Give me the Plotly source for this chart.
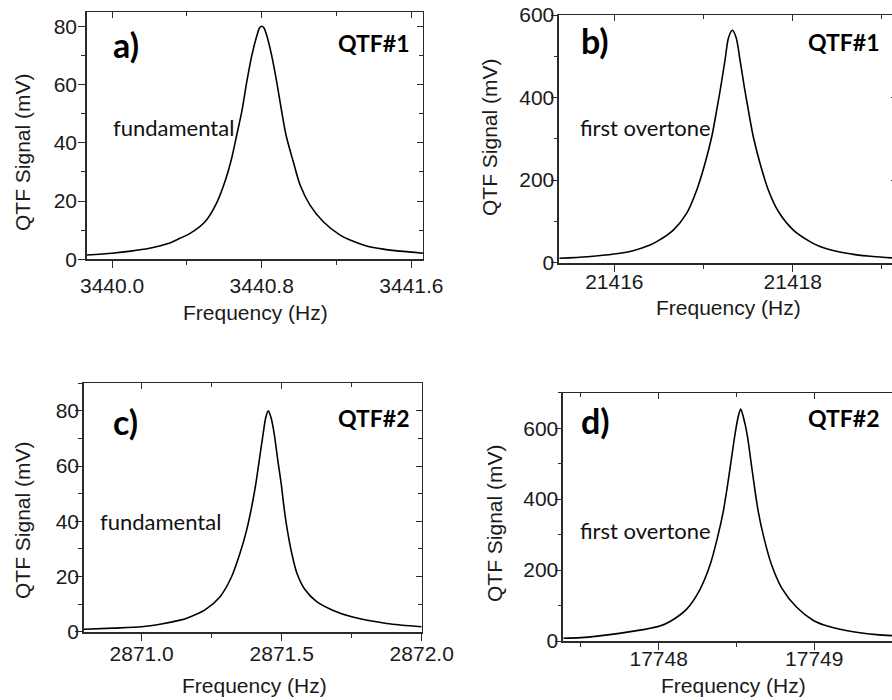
import plotly.graph_objects as go

W, H = 900, 700  # slightly wider than the window so the clipped right frames of b) and d) fall off-screen

# ---------------- data ----------------
freq_a = [3439.866, 3440.0, 3440.1, 3440.2, 3440.3, 3440.363, 3440.417, 3440.497, 3440.558,
          3440.603, 3440.639, 3440.666, 3440.693, 3440.72, 3440.747, 3440.775, 3440.788, 3440.8,
          3440.812, 3440.826, 3440.853, 3440.88, 3440.907, 3440.93, 3440.969, 3441.005, 3441.058,
          3441.129, 3441.219, 3441.272, 3441.36, 3441.45, 3441.54, 3441.662]
sig_a = [1.5, 2.1, 2.8, 3.8, 5.4, 7.2, 8.9, 12.9, 19.2,
         26.6, 34.6, 42.6, 50.6, 60.9, 70.0, 77.0, 79.4, 80.0,
         79.4, 77.0, 70.0, 60.9, 50.6, 42.6, 33.4, 25.5, 18.6,
         12.9, 8.3, 6.6, 4.6, 3.5, 2.8, 2.1]

freq_b = [21415.383, 21415.7, 21416.0, 21416.2, 21416.4, 21416.475, 21416.661, 21416.812,
          21416.924, 21417.017, 21417.092, 21417.148, 21417.193, 21417.241, 21417.28, 21417.323,
          21417.366, 21417.409, 21417.457, 21417.502, 21417.558, 21417.633, 21417.726, 21417.839,
          21418.007, 21418.194, 21418.306, 21418.5, 21418.7, 21418.9, 21419.169]
sig_b = [10.6, 14.5, 21, 28.5, 43, 51, 79, 120,
         176, 241, 305, 370, 426, 491, 545, 563,
         545, 491, 426, 370, 305, 241, 176, 124,
         79, 51, 39, 27, 19.5, 15, 11]

freq_c = [2870.794, 2870.9, 2871.0, 2871.07, 2871.137, 2871.161, 2871.226, 2871.28, 2871.321,
          2871.351, 2871.375, 2871.393, 2871.408, 2871.42, 2871.434, 2871.443, 2871.452,
          2871.462, 2871.473, 2871.486, 2871.498, 2871.508, 2871.52, 2871.536, 2871.554,
          2871.583, 2871.625, 2871.684, 2871.75, 2871.875, 2872.0]
sig_c = [0.9, 1.3, 1.8, 2.8, 4.2, 4.9, 7.9, 12.7, 19.9,
         28.4, 36.9, 45.3, 53.8, 62.2, 71.9, 77.5, 80.0,
         77.5, 71.9, 62.2, 53.8, 45.3, 36.9, 28.4, 21.3,
         15.3, 10.9, 7.7, 5.4, 3.0, 1.8]

freq_d = [17747.387, 17747.5, 17747.747, 17747.9, 17748.008, 17748.073, 17748.18, 17748.265,
          17748.33, 17748.377, 17748.415, 17748.443, 17748.465, 17748.49, 17748.51, 17748.527,
          17748.545, 17748.569, 17748.593, 17748.614, 17748.64, 17748.677, 17748.726, 17748.79,
          17748.887, 17748.994, 17749.101, 17749.25, 17749.4, 17749.551]
sig_d = [7.6, 9.4, 21.6, 32, 42, 55, 90, 145,
         214, 290, 365, 440, 506, 581, 630, 654,
         630, 581, 506, 440, 365, 290, 214, 150,
         95, 58, 40, 26, 18, 14]

panel_letters = ["a)", "b)", "c)", "d)"]
panel_qtf = ["QTF#1", "QTF#1", "QTF#2", "QTF#2"]
panel_mode = ["fundamental", "first overtone", "fundamental", "first overtone"]

x_ranges = [[3439.866, 3441.662], [21415.383, 21419.169], [2870.794, 2872.0], [17747.387, 17749.551]]
y_ranges = [[0, 85], [0, 600], [0, 90], [0, 700]]
x_ticks = [[3440.0, 3440.8, 3441.6], [21416, 21418], [2871.0, 2871.5, 2872.0], [17748, 17749]]
x_fmt = [".1f", "d", ".1f", "d"]
x_minor = [0.4, 1, 0.25, 0.5]
x_minor0 = [3440.0, 21416, 2871.0, 17748]
y_dtick = [20, 200, 20, 200]
y_minor = [10, 100, 10, 100]
x_standoff = [0, -8, -5, -9]
y_standoff = [-3, -8, -8, -8]

# ---------------- layout geometry (page pixels) ----------------
# plot boxes: left, right, top, bottom
boxes = [(87, 423, 11.7, 259.3), (559.3, 897, 15, 262.7), (84, 421.7, 383.3, 631.7), (563.3, 900, 392.7, 641)]


def px(x):
    return x / W


def py(y):
    return 1 - y / H


fig = go.Figure()
series = [(freq_a, sig_a), (freq_b, sig_b), (freq_c, sig_c), (freq_d, sig_d)]

tickfont = dict(family="Liberation Sans, Arial, sans-serif", size=21, color="#1a1a1a")
axcol = "#2a2a2a"

layout = dict(width=W, height=H, margin=dict(l=0, r=0, t=0, b=0, autoexpand=False),
              paper_bgcolor="white", plot_bgcolor="white", showlegend=False, template="none")

for i, (fx, sy) in enumerate(series):
    n = i + 1
    m = i + 5
    fig.add_trace(go.Scatter(x=fx, y=sy, mode="lines", line=dict(color="black", width=1.6, shape="spline", smoothing=0.8),
                             xaxis=f"x{n}", yaxis=f"y{n}", hoverinfo="skip"))
    fig.add_trace(go.Scatter(x=fx, y=sy, mode="lines", line=dict(color="rgba(0,0,0,0)", width=0),
                             xaxis=f"x{m}", yaxis=f"y{m}", hoverinfo="skip"))
    l, r, t, b = boxes[i]
    xd = [px(l), min(1.0, px(r))]
    yd = [py(b), py(t)]
    layout[f"xaxis{n}"] = dict(domain=xd, anchor=f"y{n}", range=x_ranges[i], tickvals=x_ticks[i],
                               tickformat=x_fmt[i], ticks="outside", ticklen=7, tickwidth=1.3, tickcolor=axcol,
                               minor=dict(ticks="outside", ticklen=4, tickwidth=1.2, tickcolor=axcol,
                                          tick0=x_minor0[i], dtick=x_minor[i], showgrid=False),
                               showline=True, linecolor=axcol, linewidth=1.6, showgrid=False, zeroline=False,
                               tickfont=tickfont, automargin=False, ticklabelstandoff=x_standoff[i],
                               ticklabeloverflow="allow")
    layout[f"yaxis{n}"] = dict(domain=yd, anchor=f"x{n}", range=y_ranges[i], dtick=y_dtick[i],
                               ticks="outside", ticklen=7, tickwidth=1.3, tickcolor=axcol,
                               minor=dict(ticks="outside", ticklen=4, tickwidth=1.2, tickcolor=axcol,
                                          dtick=y_minor[i], showgrid=False),
                               showline=True, linecolor=axcol, linewidth=1.6, showgrid=False, zeroline=False,
                               tickfont=tickfont, automargin=False, ticklabelstandoff=y_standoff[i],
                               ticklabeloverflow="allow")
    layout[f"xaxis{m}"] = dict(overlaying=f"x{n}", anchor=f"y{m}", side="top", range=x_ranges[i],
                               tickvals=x_ticks[i], ticks="inside", ticklen=6, tickwidth=1.2, tickcolor=axcol,
                               minor=dict(ticks="inside", ticklen=4, tickwidth=1.1, tickcolor=axcol,
                                          tick0=x_minor0[i], dtick=x_minor[i], showgrid=False),
                               showticklabels=False, showline=True, linecolor=axcol, linewidth=1.2,
                               showgrid=False, zeroline=False, automargin=False)
    layout[f"yaxis{m}"] = dict(overlaying=f"y{n}", anchor=f"x{m}", side="right", range=y_ranges[i],
                               dtick=y_dtick[i], ticks="inside", ticklen=6, tickwidth=1.2, tickcolor=axcol,
                               minor=dict(ticks="inside", ticklen=4, tickwidth=1.1, tickcolor=axcol,
                                          dtick=y_minor[i], showgrid=False),
                               showticklabels=False, showline=True, linecolor=axcol, linewidth=1.2,
                               showgrid=False, zeroline=False, automargin=False)

fig.update_layout(**layout)

titlefont = dict(family="Liberation Sans, Arial, sans-serif", size=21, color="#1a1a1a")
lblfont = dict(family="Lato, Open Sans, sans-serif", size=34, color="black")
qtffont = dict(family="Lato, Open Sans, sans-serif", size=23, color="black")
modefont = dict(family="Lato, Open Sans, sans-serif", size=22, color="#111111")

# text positions in page pixels
xt_pos = [(255, 313), (728.5, 308), (254, 685), (733.5, 685)]
yt_pos = [(23, 152), (489, 137), (22, 520), (494, 523)]
letter_pos = [(111, 45), (579, 40), (111, 421.5), (579, 420)]
qtf_pos = [(412, 43), (882, 42), (412, 418), (882, 418)]
mode_pos = [(110.7, 128), (577.7, 128), (98.3, 521.7), (577.7, 530)]

for i in range(4):
    fig.add_annotation(text="Frequency (Hz)", x=px(xt_pos[i][0]), y=py(xt_pos[i][1]), xref="paper", yref="paper",
                       showarrow=False, font=titlefont, xanchor="center", yanchor="middle")
    fig.add_annotation(text="QTF Signal (mV)", x=px(yt_pos[i][0]), y=py(yt_pos[i][1]), xref="paper", yref="paper",
                       showarrow=False, font=titlefont, textangle=-90, xanchor="center", yanchor="middle")
    fig.add_annotation(text=f"<b>{panel_letters[i]}</b>", x=px(letter_pos[i][0]), y=py(letter_pos[i][1]),
                       xref="paper", yref="paper", showarrow=False, font=lblfont, xanchor="left", yanchor="middle")
    fig.add_annotation(text=f"<b>{panel_qtf[i]}</b>", x=px(qtf_pos[i][0]), y=py(qtf_pos[i][1]),
                       xref="paper", yref="paper", showarrow=False, font=qtffont, xanchor="right", yanchor="middle")
    fig.add_annotation(text=panel_mode[i], x=px(mode_pos[i][0]), y=py(mode_pos[i][1]),
                       xref="paper", yref="paper", showarrow=False, font=modefont, xanchor="left", yanchor="middle")

fig.write_html(
    "out.html",
    config={"displayModeBar": False},
    post_script="document.documentElement.style.overflow='hidden';"
                "document.body.style.margin='0px';document.body.style.overflow='hidden';",
)
